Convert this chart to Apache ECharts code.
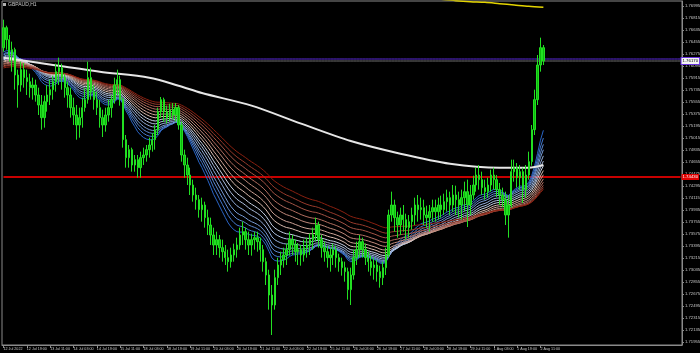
<!DOCTYPE html>
<html><head><meta charset="utf-8">
<script src="https://cdn.jsdelivr.net/npm/echarts@6/dist/echarts.min.js"></script>
<style>html,body{margin:0;padding:0;background:#000;}#c{width:700px;height:353px;}</style>
</head><body><div id="c"></div>
<script>
const chartTitle = 'GBPAUD,H1';
const xTickLabels = ['12 Jul 2022','12 Jul 19:00','13 Jul 11:00','14 Jul 03:00','14 Jul 19:00','15 Jul 11:00','18 Jul 03:00','18 Jul 19:00','19 Jul 11:00','20 Jul 03:00','20 Jul 19:00','21 Jul 11:00','22 Jul 03:00','22 Jul 19:00','25 Jul 11:00','26 Jul 03:00','26 Jul 19:00','27 Jul 11:00','28 Jul 03:00','28 Jul 19:00','29 Jul 11:00','1 Aug 03:00','1 Aug 19:00','2 Aug 11:00'];
const yTickValues = [1.71955,1.72135,1.72315,1.72495,1.72675,1.72855,1.73035,1.73215,1.73395,1.73575,1.73755,1.73935,1.74115,1.74295,1.74475,1.74655,1.74835,1.75015,1.75195,1.75375,1.75555,1.75735,1.75915,1.76095,1.76275,1.76455,1.76635,1.76815,1.76995];
// [open, close, low, high] per bar
const candles = [
[1.7637,1.7667,1.7631,1.7679],[1.7667,1.7649,1.7634,1.7670],[1.7649,1.7626,1.7616,1.7656],[1.7626,1.7634,1.7601,1.7646],
[1.7634,1.7596,1.7574,1.7637],[1.7596,1.7581,1.7547,1.7604],[1.7581,1.7604,1.7571,1.7616],[1.7604,1.7592,1.7577,1.7614],
[1.7592,1.7586,1.7566,1.7604],[1.7586,1.7577,1.7562,1.7598],[1.7577,1.7581,1.7559,1.7592],[1.7581,1.7566,1.7556,1.7589],
[1.7566,1.7551,1.7536,1.7577],[1.7551,1.7532,1.7514,1.7566],[1.7532,1.7556,1.7517,1.7565],[1.7556,1.7566,1.7541,1.7581],
[1.7566,1.7574,1.7551,1.7589],[1.7574,1.7586,1.7559,1.7595],[1.7586,1.7601,1.7571,1.7613],[1.7601,1.7607,1.7581,1.7622],
[1.7607,1.7592,1.7574,1.7613],[1.7592,1.7577,1.7562,1.7598],[1.7577,1.7566,1.7547,1.7586],[1.7566,1.7547,1.7532,1.7577],
[1.7547,1.7536,1.7521,1.7562],[1.7536,1.7521,1.7499,1.7551],[1.7521,1.7532,1.7502,1.7547],[1.7532,1.7547,1.7517,1.7562],
[1.7547,1.7559,1.7541,1.7577],[1.7559,1.7592,1.7553,1.7616],[1.7592,1.7571,1.7559,1.7607],[1.7571,1.7559,1.7544,1.7581],
[1.7559,1.7547,1.7536,1.7571],[1.7547,1.7532,1.7517,1.7559],[1.7532,1.7521,1.7503,1.7544],[1.7521,1.7536,1.7511,1.7547],
[1.7536,1.7547,1.7526,1.7559],[1.7547,1.7559,1.7532,1.7566],[1.7559,1.7581,1.7553,1.7592],[1.7581,1.7589,1.7566,1.7604],
[1.7589,1.7559,1.7550,1.7595],[1.7559,1.7499,1.7487,1.7562],[1.7499,1.7472,1.7457,1.7506],[1.7472,1.7484,1.7457,1.7491],
[1.7484,1.7461,1.7451,1.7487],[1.7461,1.7469,1.7451,1.7476],[1.7469,1.7457,1.7442,1.7476],[1.7457,1.7472,1.7442,1.7481],
[1.7472,1.7476,1.7461,1.7487],[1.7476,1.7484,1.7466,1.7491],[1.7484,1.7491,1.7472,1.7502],[1.7491,1.7499,1.7481,1.7509],
[1.7499,1.7514,1.7484,1.7521],[1.7514,1.7541,1.7506,1.7547],[1.7541,1.7559,1.7532,1.7563],[1.7559,1.7541,1.7526,1.7562],
[1.7541,1.7532,1.7523,1.7550],[1.7532,1.7544,1.7526,1.7553],[1.7544,1.7536,1.7529,1.7554],[1.7536,1.7547,1.7526,1.7554],
[1.7547,1.7521,1.7514,1.7551],[1.7521,1.7476,1.7466,1.7526],[1.7476,1.7461,1.7442,1.7484],[1.7461,1.7446,1.7431,1.7472],
[1.7446,1.7431,1.7416,1.7457],[1.7431,1.7416,1.7406,1.7439],[1.7416,1.7409,1.7394,1.7427],[1.7409,1.7394,1.7382,1.7416],
[1.7394,1.7401,1.7376,1.7412],[1.7401,1.7382,1.7367,1.7406],[1.7382,1.7371,1.7356,1.7394],[1.7371,1.7356,1.7341,1.7382],
[1.7356,1.7341,1.7326,1.7367],[1.7341,1.7349,1.7326,1.7361],[1.7349,1.7337,1.7322,1.7356],[1.7337,1.7331,1.7316,1.7349],
[1.7331,1.7322,1.7311,1.7341],[1.7322,1.7316,1.7301,1.7334],[1.7316,1.7326,1.7307,1.7337],[1.7326,1.7334,1.7316,1.7343],
[1.7334,1.7341,1.7322,1.7352],[1.7341,1.7356,1.7334,1.7367],[1.7356,1.7361,1.7341,1.7376],[1.7361,1.7349,1.7334,1.7367],
[1.7349,1.7341,1.7326,1.7361],[1.7341,1.7349,1.7325,1.7358],[1.7349,1.7352,1.7334,1.7361],[1.7352,1.7346,1.7331,1.7361],
[1.7346,1.7334,1.7316,1.7352],[1.7334,1.7316,1.7301,1.7341],[1.7316,1.7296,1.7281,1.7322],[1.7296,1.7266,1.7244,1.7304],
[1.7266,1.7251,1.7206,1.7281],[1.7251,1.7292,1.7244,1.7304],[1.7292,1.7311,1.7281,1.7322],[1.7311,1.7319,1.7296,1.7331],
[1.7319,1.7326,1.7307,1.7337],[1.7326,1.7334,1.7311,1.7343],[1.7334,1.7349,1.7325,1.7361],[1.7349,1.7341,1.7326,1.7356],
[1.7341,1.7331,1.7316,1.7349],[1.7331,1.7334,1.7311,1.7344],[1.7334,1.7326,1.7310,1.7341],[1.7326,1.7337,1.7316,1.7349],
[1.7337,1.7341,1.7322,1.7352],[1.7341,1.7349,1.7326,1.7358],[1.7349,1.7356,1.7334,1.7367],[1.7356,1.7371,1.7346,1.7382],
[1.7371,1.7349,1.7337,1.7376],[1.7349,1.7337,1.7322,1.7356],[1.7337,1.7331,1.7316,1.7346],[1.7331,1.7322,1.7307,1.7340],
[1.7322,1.7326,1.7301,1.7337],[1.7326,1.7334,1.7311,1.7343],[1.7334,1.7322,1.7307,1.7340],[1.7322,1.7316,1.7301,1.7328],
[1.7316,1.7307,1.7295,1.7322],[1.7307,1.7301,1.7286,1.7316],[1.7301,1.7274,1.7259,1.7307],[1.7274,1.7296,1.7251,1.7307],
[1.7296,1.7322,1.7289,1.7334],[1.7322,1.7334,1.7311,1.7346],[1.7334,1.7346,1.7322,1.7356],[1.7346,1.7334,1.7322,1.7352],
[1.7334,1.7322,1.7311,1.7343],[1.7322,1.7316,1.7301,1.7331],[1.7316,1.7307,1.7295,1.7325],[1.7307,1.7311,1.7289,1.7322],
[1.7311,1.7301,1.7286,1.7319],[1.7301,1.7292,1.7277,1.7310],[1.7292,1.7307,1.7281,1.7316],[1.7307,1.7326,1.7296,1.7337],
[1.7326,1.7386,1.7322,1.7394],[1.7386,1.7401,1.7376,1.7421],[1.7401,1.7382,1.7361,1.7409],[1.7382,1.7371,1.7352,1.7391],
[1.7371,1.7386,1.7356,1.7397],[1.7386,1.7379,1.7361,1.7401],[1.7379,1.7367,1.7349,1.7388],[1.7367,1.7376,1.7352,1.7386],
[1.7376,1.7386,1.7364,1.7397],[1.7386,1.7401,1.7371,1.7412],[1.7401,1.7394,1.7376,1.7416],[1.7394,1.7397,1.7379,1.7412],
[1.7397,1.7386,1.7371,1.7409],[1.7386,1.7382,1.7367,1.7400],[1.7382,1.7391,1.7361,1.7401],[1.7391,1.7397,1.7376,1.7409],
[1.7397,1.7391,1.7376,1.7409],[1.7391,1.7401,1.7379,1.7412],[1.7401,1.7394,1.7382,1.7415],[1.7394,1.7406,1.7386,1.7418],
[1.7406,1.7412,1.7391,1.7424],[1.7412,1.7401,1.7386,1.7421],[1.7401,1.7416,1.7391,1.7431],[1.7416,1.7409,1.7386,1.7430],
[1.7409,1.7401,1.7382,1.7421],[1.7401,1.7412,1.7379,1.7424],[1.7412,1.7421,1.7391,1.7436],[1.7421,1.7401,1.7368,1.7439],
[1.7401,1.7416,1.7386,1.7431],[1.7416,1.7431,1.7409,1.7445],[1.7431,1.7446,1.7421,1.7457],[1.7446,1.7439,1.7424,1.7461],
[1.7439,1.7427,1.7416,1.7451],[1.7427,1.7421,1.7409,1.7439],[1.7421,1.7431,1.7412,1.7442],[1.7431,1.7446,1.7421,1.7454],
[1.7446,1.7439,1.7424,1.7457],[1.7439,1.7424,1.7413,1.7446],[1.7424,1.7416,1.7401,1.7434],[1.7416,1.7409,1.7398,1.7427],
[1.7409,1.7386,1.7371,1.7421],[1.7386,1.7401,1.7352,1.7416],[1.7401,1.7451,1.7397,1.7469],[1.7451,1.7457,1.7436,1.7469],
[1.7457,1.7442,1.7427,1.7464],[1.7442,1.7451,1.7424,1.7461],[1.7451,1.7424,1.7404,1.7457],[1.7424,1.7446,1.7412,1.7461],
[1.7446,1.7466,1.7439,1.7481],[1.7466,1.7514,1.7460,1.7521],[1.7514,1.7559,1.7506,1.7574],[1.7559,1.7611,1.7551,1.7626],
[1.7611,1.7637,1.7601,1.7652],[1.7637,1.7617,1.7611,1.7641]
];
const emaPeriods = [15,18,21,24,28,32,36,41,46,52,58,65,72,80];
const emaSeeds = [1.7625,1.7623,1.7622,1.7620,1.7619,1.7617,1.7616,1.7614,1.7613,1.7611,1.7610,1.7608,1.7607,1.7605];
const whiteBars = [0,17,33,50,60,68,85,102,119,136,153,170,180,185];
const whiteVals = [1.7622,1.7611,1.7601,1.7592,1.7580,1.7569,1.7550,1.7523,1.7497,1.7478,1.7463,1.7457,1.7457,1.7461];
const yellowBars = [150,155,160,165,170,175,180,185];
const yellowVals = [1.77095,1.77075,1.7706,1.7705,1.7703,1.7701,1.7699,1.76975];
const redLevel = 1.7443;
const redLevelLabel = '1.74430';
const bidPrice = 1.7617;
const bidLabel = '1.76170';
const askPrice = 1.7620;

const TOTAL = 233, NB = candles.length;
const cats = []; for (let i = 0; i < TOTAL; i++) cats.push(String(i));
const closes = candles.map(c => c[1]);
function ema(period, seed) {
  const a = 2 / (period + 1); let v = seed; const out = [];
  for (let i = 0; i < closes.length; i++) { v = v + a * (closes[i] - v); out.push(v); }
  return out;
}
function sparse(bars, vals) { const d = new Array(NB).fill(null); bars.forEach((b, k) => d[b] = vals[k]); return d; }
function level(v) { return new Array(TOTAL).fill(v); }
function hex(c){return [parseInt(c.slice(1,3),16),parseInt(c.slice(3,5),16),parseInt(c.slice(5,7),16)];}
function mix(c1,c2,t){const a=hex(c1),b=hex(c2);return 'rgb('+a.map((v,i)=>Math.round(v+(b[i]-v)*t)).join(',')+')';}
function ribbonColor(i){
  const n = emaPeriods.length - 1, t = i / n;
  if (t < 0.5) return mix('#2a66c8', '#d4dae6', t / 0.5);
  return mix('#e2cabe', '#8a2010', (t - 0.5) / 0.5);
}
const isTick = (idx) => idx % 8 === 0 && idx < NB;
const FONT = 'Liberation Sans';
const series = [];
series.push({ type: 'line', data: level(askPrice), symbol: 'none', silent: true, lineStyle: { width: 1, color: '#5a2ad8' }, z: 1 });
series.push({ type: 'line', data: level(bidPrice), symbol: 'none', silent: true, lineStyle: { width: 1, color: '#6e6e6e' }, z: 1,
  endLabel: { show: true, formatter: bidLabel, color: '#000', backgroundColor: '#f4f4f4', borderColor: '#6a34e0', borderWidth: 1,
    fontSize: 4.3, padding: [1, 1], distance: 1, fontFamily: FONT } });
series.push({ type: 'line', data: level(redLevel), symbol: 'none', silent: true, lineStyle: { width: 2, color: '#c80000' }, z: 1,
  endLabel: { show: true, formatter: redLevelLabel, color: '#fff', backgroundColor: '#e00000',
    fontSize: 4.3, padding: [1, 1], distance: 1, fontFamily: FONT } });
emaPeriods.forEach((p, i) => {
  series.push({ type: 'line', data: ema(p, emaSeeds[i]), symbol: 'none', silent: true,
    lineStyle: { width: 1, color: ribbonColor(i) }, z: 2 });
});
series.push({ type: 'line', data: sparse(whiteBars, whiteVals), connectNulls: true, smooth: 0.3, symbol: 'none', silent: true,
  lineStyle: { width: 2, color: '#e6e6e6' }, z: 3 });
series.push({ type: 'line', data: sparse(yellowBars, yellowVals), connectNulls: true, smooth: 0.3, symbol: 'none', silent: true,
  lineStyle: { width: 1.5, color: '#e4d400' }, z: 3 });
series.push({ type: 'candlestick', data: candles, barWidth: '65%', z: 4, silent: true,
  itemStyle: { color: '#0cb80c', color0: '#0cb80c', borderColor: '#22e022', borderColor0: '#22e022', borderWidth: 1 } });

const chart = echarts.init(document.getElementById('c'), null, { renderer: 'canvas' });
chart.setOption({
  backgroundColor: '#000',
  animation: false,
  graphic: [
    { type: 'rect', left: 3, top: 3, shape: { width: 3, height: 3 }, style: { fill: '#b0b0b0' } },
    { type: 'text', left: 8, top: 2, style: { text: chartTitle, fill: '#c8c8c8', fontSize: 5, fontFamily: FONT } }
  ],
  grid: { left: 2, right: 18, top: 1, bottom: 8, show: true, borderColor: '#8a8a8a', borderWidth: 1, backgroundColor: '#000', containLabel: false, outerBoundsMode: 'none' },
  xAxis: { type: 'category', data: cats, boundaryGap: true,
    axisLine: { lineStyle: { color: '#8a8a8a', width: 1 } },
    axisTick: { show: true, alignWithLabel: true, interval: (idx) => isTick(idx), length: 3, lineStyle: { color: '#8a8a8a' } },
    axisLabel: { interval: (idx) => isTick(idx), showMinLabel: true, formatter: (v, idx) => xTickLabels[Math.round(Number(v) / 8)] || '',
      fontSize: 3.7, color: '#c8c8c8', align: 'left', margin: 2, fontFamily: FONT },
    splitLine: { show: false } },
  yAxis: { type: 'value', position: 'right', min: 1.7191, max: 1.7707,
    axisLine: { show: true, lineStyle: { color: '#8a8a8a', width: 1 } },
    axisTick: { show: true, customValues: yTickValues, length: 2, lineStyle: { color: '#8a8a8a' } },
    axisLabel: { customValues: yTickValues, formatter: (v) => v.toFixed(5), fontSize: 4.2, color: '#c8c8c8', margin: 3, fontFamily: FONT },
    splitLine: { show: false } },
  series: series
});
</script></body></html>
